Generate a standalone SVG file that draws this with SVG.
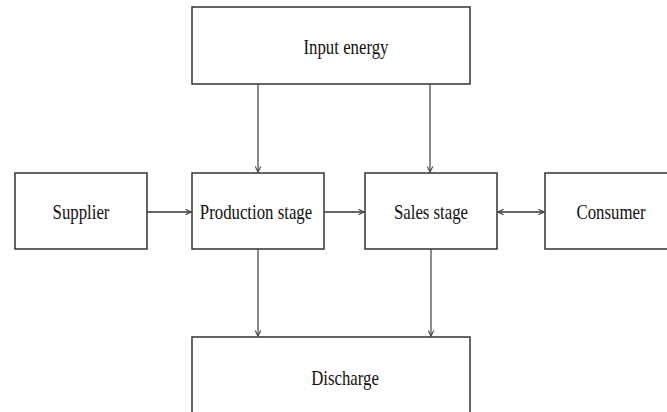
<svg xmlns="http://www.w3.org/2000/svg" width="667" height="412" viewBox="0 0 667 412">
<style>
.box{fill:#fff;stroke:#333;stroke-width:1.5}
.lbl{font-family:"Liberation Serif",serif;font-size:21px;fill:#111;text-anchor:middle;dominant-baseline:central}
.c{stroke:#666;stroke-width:1.5;fill:none}
.h{stroke:#666;stroke-width:2.2;fill:none}
</style>
<defs>
<marker id="ah" viewBox="0 0 10 10" refX="9" refY="5" markerWidth="7" markerHeight="7" markerUnits="userSpaceOnUse" orient="auto-start-reverse">
<path d="M1,1 L9,5 L1,9" fill="none" stroke="#444" stroke-width="1.6"/>
</marker>
</defs>
<rect width="667" height="412" fill="#fff"/>
<g id="connectors">
<line class="c" x1="258" y1="84" x2="258" y2="172" marker-end="url(#ah)"/>
<line class="c" x1="430" y1="84" x2="430" y2="172" marker-end="url(#ah)"/>
<line class="c" x1="258" y1="249" x2="258" y2="336" marker-end="url(#ah)"/>
<line class="c" x1="431" y1="249" x2="431" y2="336" marker-end="url(#ah)"/>
<line class="h" x1="147" y1="212" x2="191" y2="212" marker-end="url(#ah)"/>
<line class="h" x1="324" y1="212" x2="364" y2="212" marker-end="url(#ah)"/>
<line class="h" x1="498" y1="212" x2="544" y2="212" marker-start="url(#ah)" marker-end="url(#ah)"/>
</g>
<g id="input-energy"><rect class="box" x="192" y="7" width="278" height="77"/><text class="lbl" transform="translate(346,47) scale(0.8,1)">Input energy</text></g>
<g id="supplier"><rect class="box" x="15" y="173" width="132" height="76"/><text class="lbl" transform="translate(81,212) scale(0.8,1)">Supplier</text></g>
<g id="production"><rect class="box" x="192" y="173" width="132" height="76"/><text class="lbl" transform="translate(256,212) scale(0.8,1)">Production stage</text></g>
<g id="sales"><rect class="box" x="365" y="173" width="132" height="76"/><text class="lbl" transform="translate(431,212) scale(0.8,1)">Sales stage</text></g>
<g id="consumer"><rect class="box" x="545" y="173" width="132" height="76"/><text class="lbl" transform="translate(611,212) scale(0.8,1)">Consumer</text></g>
<g id="discharge"><rect class="box" x="192" y="337" width="278" height="90"/><text class="lbl" transform="translate(345,378) scale(0.8,1)">Discharge</text></g>
</svg>
